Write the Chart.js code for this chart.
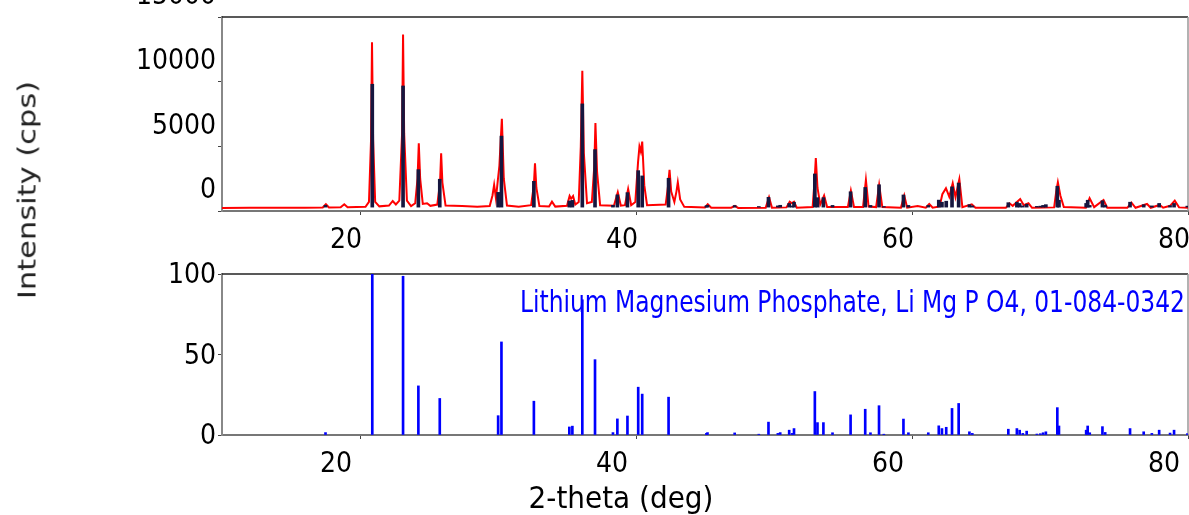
<!DOCTYPE html>
<html>
<head>
<meta charset="utf-8">
<script src="https://cdn.jsdelivr.net/npm/chart.js@4.4.1/dist/chart.umd.min.js"></script>
<style>
  body { margin: 0; background: #fff; width: 1189px; height: 515px; overflow: hidden; position: relative; }
  canvas { position: absolute; left: 0; }
  #yTitle {
    position: absolute; left: 27px; top: 190px;
    transform: translate(-50%, -50%) rotate(-90deg) scaleX(1.22);
    font: 25px 'DejaVu Sans', sans-serif; color: #222; white-space: nowrap;
  }
</style>
</head>
<body>
<canvas id="scanChart" width="1189" height="260" style="top:0"></canvas>
<canvas id="refChart" width="1189" height="257" style="top:258px"></canvas>
<div id="yTitle">Intensity (cps)</div>
<script>
const profileDeg = [10.0, 12.0, 14.0, 16.0, 17.3, 17.53, 17.75, 18.6, 18.86, 19.1,
  20.4, 20.65, 20.8, 20.87, 20.95, 21.1, 21.4, 22.1, 22.37, 22.6,
  22.85, 23.05, 23.12, 23.2, 23.4, 23.7, 24.0, 24.17, 24.26, 24.36,
  24.55, 24.86, 25.1, 25.6, 25.8, 25.88, 25.97, 26.2, 27.4, 28.5,
  29.4, 29.6, 29.72, 29.85, 30.1, 30.28, 30.42, 30.65, 31.5, 32.4,
  32.6, 32.68, 32.78, 33.0, 33.7, 33.91, 34.15, 35.0, 35.19, 35.3,
  35.44, 35.6, 35.85, 36.0, 36.11, 36.22, 36.45, 36.8, 36.98, 37.06,
  37.18, 37.4, 38.4, 38.68, 38.9, 39.2, 39.43, 39.65, 39.95, 40.15,
  40.25, 40.35, 40.45, 40.6, 40.8, 42.15, 42.33, 42.43, 42.55, 42.78,
  42.93, 43.03, 43.2, 43.5, 45.0, 45.2, 45.45, 46.9, 47.17, 47.4,
  49.4, 49.64, 49.85, 50.9, 51.14, 51.3, 51.45, 51.65, 52.8, 52.95,
  53.03, 53.15, 53.35, 53.63, 53.85, 55.35, 55.57, 55.8, 56.45, 56.66,
  56.85, 57.4, 57.62, 57.85, 59.2, 59.44, 59.65, 60.41, 61.0, 61.25,
  61.5, 62.0, 62.2, 62.46, 62.7, 62.95, 63.15, 63.43, 63.65, 64.33,
  64.6, 66.8, 67.06, 67.3, 67.84, 68.1, 68.44, 68.7, 70.3, 70.45,
  70.57, 70.75, 71.0, 72.6, 72.87, 73.2, 73.88, 74.15, 75.6, 75.9,
  76.2, 77.03, 77.3, 77.95, 78.2, 78.7, 79.04, 79.35, 80.0];
const profileCps = [230, 250, 250, 260, 270, 520, 280, 290, 520, 290,
  320, 700, 5500, 13050, 5500, 700, 360, 420, 775, 500,
  800, 6000, 13640, 6000, 800, 380, 600, 2500, 5245, 2500,
  550, 600, 400, 500, 2200, 4470, 2200, 420, 390, 330,
  380, 1200, 2015, 985, 3500, 7130, 2500, 420, 330, 450,
  2000, 3695, 1800, 380, 350, 720, 340, 400, 1160, 950,
  1160, 500, 700, 5000, 10850, 4500, 600, 700, 3500, 6795,
  3000, 450, 400, 1450, 420, 450, 1705, 450, 700, 3800,
  4985, 4600, 5370, 2000, 450, 500, 2000, 3180, 1500, 700,
  1500, 2220, 900, 320, 280, 520, 260, 260, 390, 240,
  260, 1060, 260, 280, 720, 600, 720, 260, 300, 2500,
  4085, 1800, 500, 1190, 300, 300, 1575, 300, 300, 2400,
  350, 300, 2015, 300, 260, 1190, 260, 380, 250, 540,
  260, 350, 1300, 1760, 1110, 2145, 1080, 2455, 300, 520,
  250, 250, 595, 400, 930, 450, 595, 250, 280, 1500,
  2220, 1200, 300, 260, 985, 300, 850, 260, 250, 645,
  250, 540, 250, 465, 250, 400, 800, 280, 255];

// reference card 01-084-0342 (2-theta, relative intensity %)
const refDeg = [17.50, 20.89, 23.12, 24.23, 25.78, 30.01, 30.25, 32.60, 35.17, 35.39,
  36.11, 37.03, 38.33, 38.65, 39.38, 40.16, 40.45, 42.36, 45.10, 45.18,
  47.15, 48.90, 49.60, 50.28, 50.45, 51.10, 51.31, 51.45, 52.96, 53.15,
  53.58, 54.24, 55.55, 56.61, 56.99, 57.61, 57.96, 59.38, 59.74, 61.18,
  61.94, 62.17, 62.48, 62.90, 63.38, 64.16, 64.37, 66.98, 67.60, 67.80,
  68.03, 68.31, 69.05, 69.30, 69.50, 69.70, 70.53, 70.65, 72.62, 72.73,
  72.88, 73.80, 74.00, 75.80, 76.79, 77.38, 77.91, 78.70, 78.99, 79.95];
const refPct = [1.5, 100, 98.6, 30.5, 22.7, 12, 57.8, 21, 5, 5.5,
  84, 46.8, 1.5, 10, 11.8, 29.7, 25.4, 23.5, 1, 1.5,
  1.3, 0.5, 8, 1, 1.5, 3, 1, 4, 27, 7.7,
  7.7, 1.4, 12.5, 16, 1.4, 18.2, 0.5, 9.9, 1.4, 1.4,
  5.7, 4, 4.8, 16.5, 19.6, 2, 1, 3.6, 4, 3,
  1, 2.4, 0.6, 0.8, 1.4, 2, 17, 5.6, 3, 5.6,
  1.4, 5.2, 1.6, 4, 2, 1, 3, 1.2, 3, 0.8];

const xTicks = [20, 40, 60, 80];
const scanYTicks = [0, 5000, 10000, 15000];
const refYTicks = [0, 50, 100];
const phaseLabel = 'Lithium Magnesium Phosphate, Li Mg P O4, 01-084-0342';
const xTitle = '2-theta (deg)';
const stickBase = 300;   // sticks in the scan panel start on the background
const stickPerPct = 95;  // cps per percent of reference intensity

const narrowFamily = "'DejaVu Sans Condensed', 'Liberation Sans Narrow', sans-serif";
const tickFont = { family: narrowFamily, size: 28 };

const framePlugin = {
  id: 'frame',
  beforeDatasetsDraw(chart) {
    const { ctx, chartArea: a } = chart;
    ctx.save();
    ctx.lineWidth = 1.5;
    ctx.strokeStyle = '#222';
    ctx.beginPath(); ctx.moveTo(a.left, a.top); ctx.lineTo(a.right, a.top); ctx.stroke();
    ctx.strokeStyle = '#999';
    ctx.beginPath(); ctx.moveTo(a.right, a.top); ctx.lineTo(a.right, a.bottom); ctx.stroke();
    ctx.restore();
  }
};

function noPad(s) {
  s.paddingLeft = 0; s.paddingRight = 0; s.paddingTop = 0; s.paddingBottom = 0;
}

function axisX(labelOffset, height) {
  return {
    type: 'linear', min: 10, max: 80, offset: false,
    afterBuildTicks: s => { s.ticks = xTicks.map(v => ({ value: v })); },
    afterFit: s => { s.height = height; noPad(s); },
    ticks: { font: tickFont, color: '#000', labelOffset: labelOffset, padding: 9, maxRotation: 0,
      callback: v => String(v) },
    grid: { drawOnChartArea: false, offset: false, tickLength: 4, color: '#444' },
    border: { color: '#777', width: 2 }
  };
}

function axisY(max, tickList, labelOffset) {
  return {
    min: 0, max: max,
    afterBuildTicks: s => { s.ticks = tickList.map(v => ({ value: v })); },
    afterFit: s => { s.width = 222; noPad(s); },
    ticks: { font: tickFont, color: '#000', labelOffset: labelOffset, padding: 2,
      callback: v => String(v) },
    grid: { drawOnChartArea: false, tickLength: 4, color: '#444' },
    border: { color: '#888', width: 2 }
  };
}

new Chart(document.getElementById('scanChart'), {
  type: 'bar',
  data: {
    datasets: [{
      type: 'bar',
      data: refDeg.map((d, i) => ({ x: d, y: [stickBase, stickBase + refPct[i] * stickPerPct] })),
      backgroundColor: '#16163f',
      barThickness: 3,
      grouped: false,
      order: 1
    }, {
      type: 'line',
      data: profileDeg.map((d, i) => ({ x: d, y: profileCps[i] })),
      borderColor: '#ff0000',
      borderWidth: 2,
      pointRadius: 0,
      tension: 0,
      order: 2
    }]
  },
  options: {
    responsive: false,
    animation: false,
    devicePixelRatio: 1,
    layout: { padding: { top: 17, right: 1, left: 0, bottom: 0 } },
    plugins: { legend: { display: false }, tooltip: { enabled: false } },
    scales: {
      x: axisX(-14, 49),
      y: axisY(15000, scanYTicks, -20)
    }
  },
  plugins: [framePlugin]
});

const labelPlugin = {
  id: 'labels',
  afterDatasetsDraw(chart) {
    const ctx = chart.ctx;
    ctx.save();
    ctx.fillStyle = '#0000ff';
    ctx.font = '31px ' + narrowFamily;
    ctx.textAlign = 'right';
    ctx.textBaseline = 'alphabetic';
    // squeeze the label to the width it takes in the original (x 520..1185)
    const sx = Math.min(1, 665 / ctx.measureText(phaseLabel).width);
    ctx.translate(1185, 54);
    ctx.scale(sx, 1);
    ctx.fillText(phaseLabel, 0, 0);
    ctx.restore();

    ctx.save();
    ctx.fillStyle = '#000';
    ctx.font = "31px 'DejaVu Sans Condensed', sans-serif";
    ctx.textAlign = 'center';
    ctx.textBaseline = 'middle';
    ctx.fillText(xTitle, 621, 242);
    ctx.restore();
  }
};

new Chart(document.getElementById('refChart'), {
  type: 'bar',
  data: {
    datasets: [{
      data: refDeg.map((d, i) => ({ x: d, y: refPct[i] })),
      backgroundColor: '#0000ff',
      barThickness: 2,
      grouped: false
    }]
  },
  options: {
    responsive: false,
    animation: false,
    devicePixelRatio: 1,
    layout: { padding: { top: 16, right: 1, left: 0, bottom: 0 } },
    plugins: { legend: { display: false }, tooltip: { enabled: false } },
    scales: {
      x: axisX(-24, 80),
      y: axisY(100, refYTicks, 2)
    }
  },
  plugins: [framePlugin, labelPlugin]
});
</script>
</body>
</html>
